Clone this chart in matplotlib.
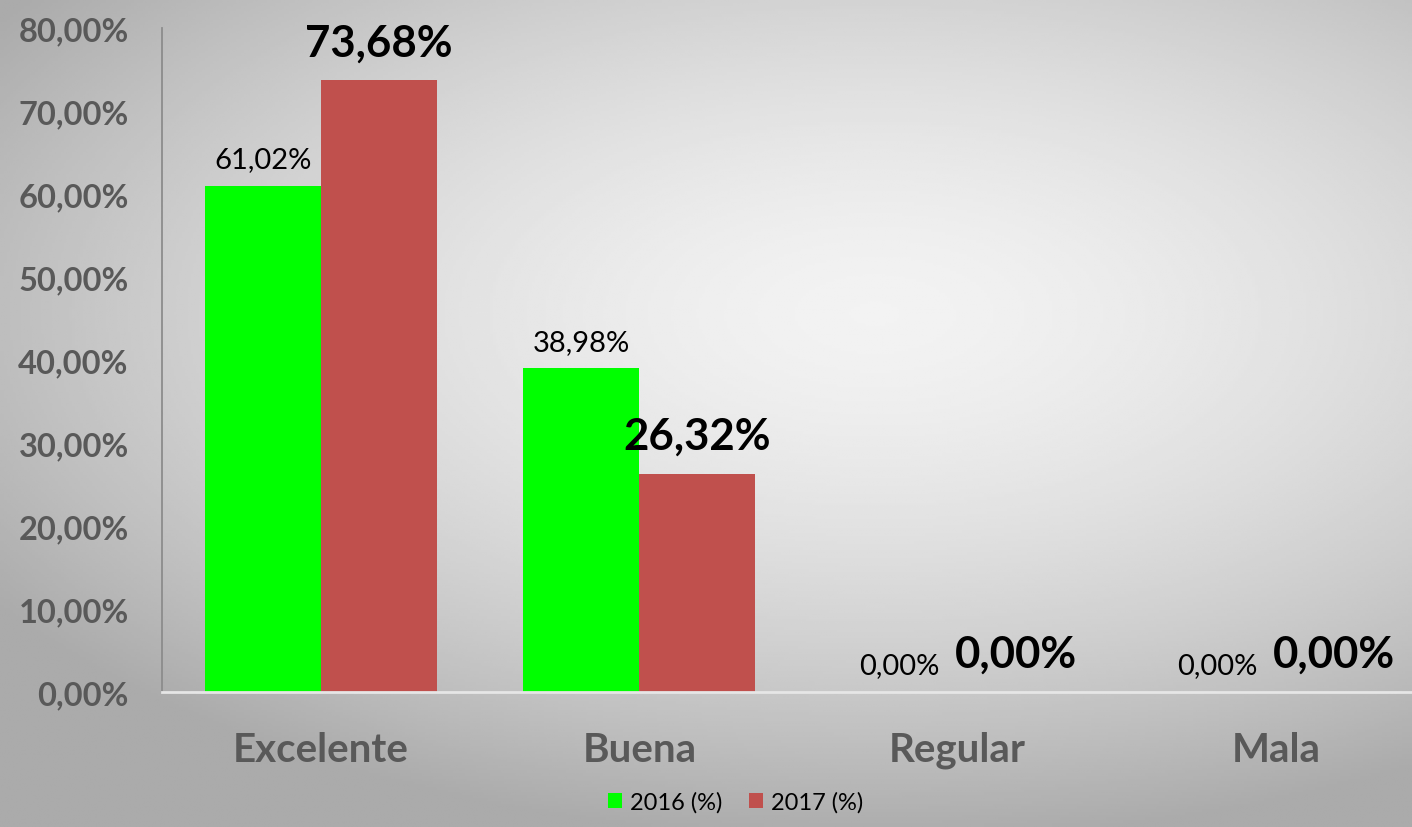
import matplotlib
matplotlib.use("Agg")
import matplotlib.pyplot as plt
import numpy as np

# Datos
categorias = ["Excelente", "Buena", "Regular", "Mala"]
valores_2016 = [61.02, 38.98, 0.00, 0.00]
valores_2017 = [73.68, 26.32, 0.00, 0.00]
series = ["2016 (%)", "2017 (%)"]
yticks = [0, 10, 20, 30, 40, 50, 60, 70, 80]

plt.rcParams['font.family'] = ['Lato', 'DejaVu Sans']

fig = plt.figure(figsize=(14.12, 8.28), dpi=100)

# Fondo con degradado radial
bg = fig.add_axes([0, 0, 1, 1], zorder=-10)
yy, xx = np.mgrid[0:1:300j, 0:1:500j]
r = np.sqrt(((xx - 0.62) / 1.0) ** 2 + ((yy - 0.38) / 0.85) ** 2)
g = 0.95 - 0.28 * np.clip(r / 0.75, 0, 1) ** 1.6
bg.imshow(g, cmap='gray', vmin=0, vmax=1, aspect='auto', extent=[0, 1, 1, 0])
bg.axis('off')

ax = fig.add_axes([162 / 1412, 1 - 693 / 828, 1 - 162 / 1412, (693 - 29) / 828])
ax.set_facecolor('none')

x = np.arange(len(categorias))
w = 0.365
b1 = ax.bar(x - w / 2, valores_2016, w, color='#00ff00', label=series[0])
b2 = ax.bar(x + w / 2, valores_2017, w, color='#c0504d', label=series[1])

fmt = lambda v: f"{v:.2f}".replace('.', ',') + '%'
for xi, v in zip(x - w / 2, valores_2016):
    ax.annotate(fmt(v), (xi, v), xytext=(0, 10), textcoords='offset points',
                ha='center', va='bottom', fontsize=21, color='black')
for xi, v in zip(x + w / 2, valores_2017):
    ax.annotate(fmt(v), (xi, v), xytext=(0, 13), textcoords='offset points',
                ha='center', va='bottom', fontsize=31.5, fontweight='bold', color='black')

ax.set_ylim(0, 80)
ax.set_xlim(-0.5, 3.428)
ax.set_yticks(yticks)
ax.set_yticklabels([f"{t:.2f}".replace('.', ',') + '%' for t in yticks],
                   fontsize=23.5, fontweight='bold', color='#595959')
ax.set_xticks(x)
ax.set_xticklabels(categorias, fontsize=29, fontweight='bold', color='#595959')
ax.tick_params(axis='both', length=0)
ax.tick_params(axis='y', pad=24)
ax.tick_params(axis='x', pad=28)

for s in ['top', 'right']:
    ax.spines[s].set_visible(False)
ax.spines['left'].set_color('#8c8c8c')
ax.spines['left'].set_linewidth(1.3)
ax.spines['bottom'].set_color('#e6e6e6')
ax.spines['bottom'].set_linewidth(2)

fig.legend(handles=[b1, b2], labels=series, loc='center', bbox_to_anchor=(0.521, 0.03),
           ncol=2, frameon=False, fontsize=17, handlelength=0.6, handleheight=0.6,
           handletextpad=0.35, columnspacing=1.1)

fig.savefig('out.png', dpi=100)
